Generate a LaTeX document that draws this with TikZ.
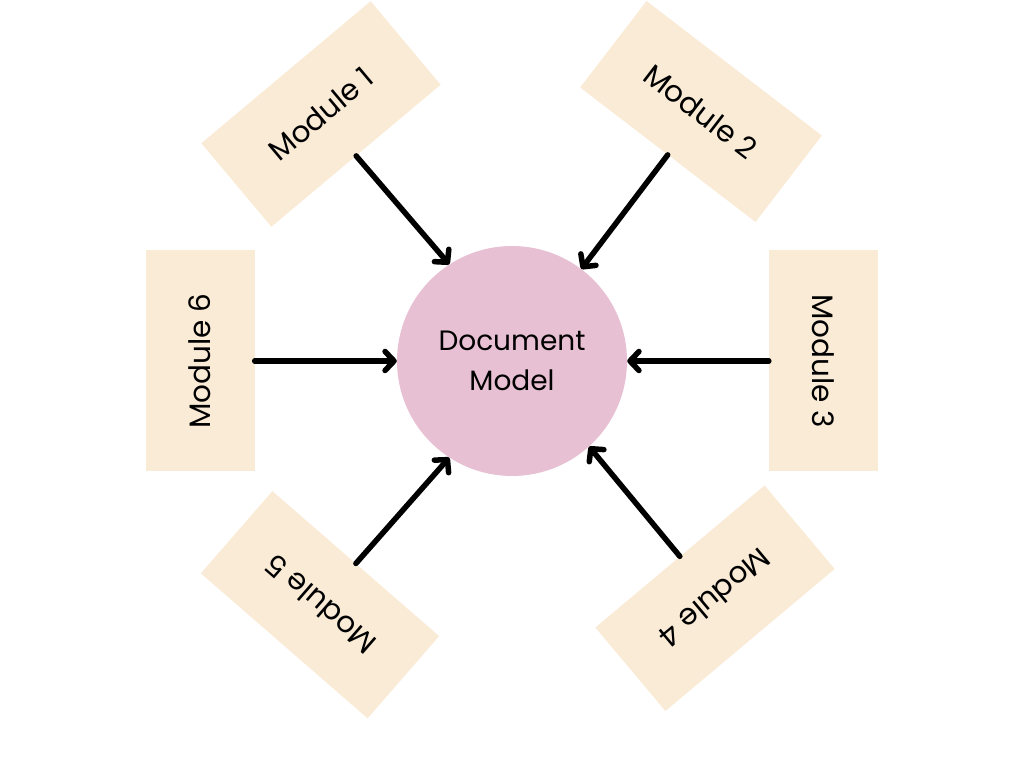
\documentclass[tikz,border=0pt]{standalone}
\usepackage{fontspec}
\setmainfont{Poppins}
\usetikzlibrary{arrows.meta}
\definecolor{peach}{HTML}{FAEBD7}
\definecolor{rosy}{HTML}{E8C0D3}
\tikzset{
  modbox/.style={fill=peach, draw=none, minimum width=221pt, minimum height=109pt, inner sep=0pt, font=\fontsize{29.5}{32}\selectfont},
  hub/.style={circle, fill=rosy, draw=none, minimum size=230pt, inner sep=0pt, align=center, font=\fontsize{28}{40}\selectfont},
  feed/.style={line width=5.5pt, line cap=round, -{Straight Barb[length=9pt,width=19pt,line cap=round,line join=round]}}
}
\begin{document}
\begin{tikzpicture}[x=1pt,y=1pt]
\useasboundingbox (0,0) rectangle (1024,768);
\node[hub] (c) at (512,407) {Document\\Model};
\node[modbox, rotate=40] (m1) at (321,654) {Module 1};
\node[modbox, rotate=-37.5] (m2) at (701,656.5) {Module 2};
\node[modbox, rotate=-90] (m3) at (823.5,407) {Module 3};
\node[modbox, rotate=220] (m4) at (715,169.75) {Module 4};
\node[modbox, rotate=139] (m5) at (320,163.25) {Module 5};
\node[modbox, rotate=90] (m6) at (200,407) {Module 6};
\draw[feed] (m1.south) -- (c.123);
\draw[feed] (m2.south) -- (c.53);
\draw[feed] (m3.south) -- (c.0);
\draw[feed] (m4.south) -- (c.312);
\draw[feed] (m5.south) -- (c.237);
\draw[feed] (m6.south) -- (c.180);
\end{tikzpicture}
\end{document}
